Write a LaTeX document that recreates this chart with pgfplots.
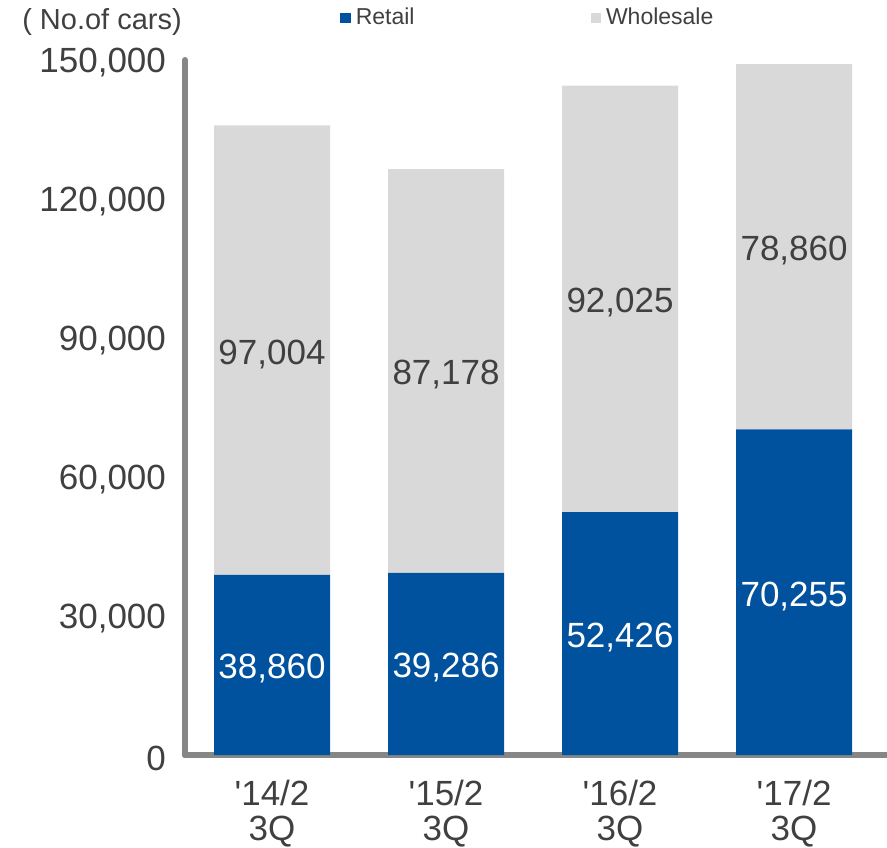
\documentclass[border=0pt]{standalone}
\usepackage{fontspec}
\setmainfont{Liberation Sans}
\usepackage{pgfplots}
\usepackage{pgfplotstable}
\pgfplotsset{compat=1.18}
\definecolor{retail}{RGB}{0,82,158}
\definecolor{whole}{RGB}{217,217,217}
\definecolor{axgray}{RGB}{134,134,134}
\definecolor{txt}{RGB}{64,64,64}
\pgfplotsset{
  base/.style={scale only axis, width=351pt, height=347.5pt,
    xmin=-0.5, xmax=3.534, ymin=0, ymax=150000,
    /pgf/number format/fixed,
    /pgf/number format/precision=0,
    /pgf/number format/1000 sep={,},
    /pgf/number format/assume math mode=true,
    clip=false}
}
% label positions: segment mid-heights (retail/2 and retail+wholesale/2), value = segment size
\pgfplotstableread{
x  y        v
0  19430    38860
1  19643    39286
2  26213    52426
3  35127.5  70255
}\retaillab
\pgfplotstableread{
x  y        v
0  87362    97004
1  82875    87178
2  98438.5  92025
3  109685   78860
}\wholelab

\begin{document}
\begin{tikzpicture}
\begin{axis}[base,
  ybar stacked, bar width=58pt,
  axis lines*=left,
  axis line style={line width=3pt, draw=axgray, line cap=round},
  xtick={0,1,2,3},
  xticklabels={{\textquotesingle14/2\\3Q},{\textquotesingle15/2\\3Q},{\textquotesingle16/2\\3Q},{\textquotesingle17/2\\3Q}},
  xticklabel style={align=center, font=\fontsize{17.5}{17.5}\selectfont, text=txt, yshift=-9pt},
  ytick={0,30000,60000,90000,120000,150000},
  yticklabel style={font=\fontsize{17.5}{21}\selectfont, text=txt, xshift=-6pt, yshift=-1.5pt},
  major tick length=0pt, tick style={draw=none},
  scaled y ticks=false,
  legend columns=2,
  legend style={at={(rel axis cs:0.2208,1.0604)}, anchor=west, draw=none, fill=none,
    font=\fontsize{11.5}{12}\selectfont, text=txt, inner sep=0pt, nodes={inner sep=0pt},
    /tikz/every odd column/.append style={column sep=2.5pt},
    /tikz/every even column/.append style={column sep=88pt}},
  legend image code/.code={\fill[#1, draw=none] (0pt,-2.6pt) rectangle (5.2pt,2.6pt);},
]
\addplot[fill=retail, draw=none] coordinates {(0,38860) (1,39286) (2,52426) (3,70255)};
\addlegendentry{Retail}
\addplot[fill=whole, draw=none] coordinates {(0,97004) (1,87178) (2,92025) (3,78860)};
\addlegendentry{Wholesale}
\node[font=\fontsize{14.5}{15}\selectfont, text=txt] at (rel axis cs:-0.1182,1.0547) {( No.of cars)};
\coordinate (O) at (rel axis cs:0,0);
\end{axis}
\begin{axis}[base, hide axis,
  nodes near coords, point meta=explicit,
  every node near coord/.append style={anchor=center, yshift=-2pt, font=\fontsize{17.5}{21}\selectfont},
]
\addplot[draw=none, mark=none, every node near coord/.append style={text=white}] table[x=x, y=y, meta=v] {\retaillab};
\addplot[draw=none, mark=none, every node near coord/.append style={text=txt}] table[x=x, y=y, meta=v] {\wholelab};
\end{axis}
\pgfresetboundingbox
\path[use as bounding box] (O) ++(-92.5pt,-46pt) rectangle ++(443.5pt,423.5pt);
\end{tikzpicture}
\end{document}
